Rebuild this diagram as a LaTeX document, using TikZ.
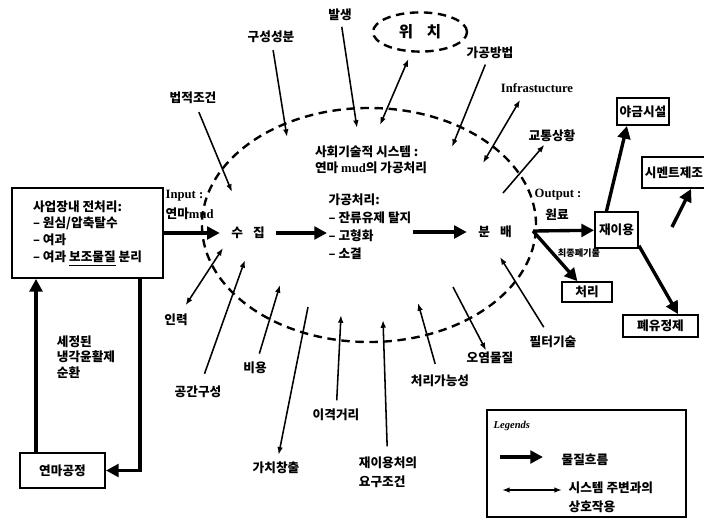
\documentclass[tikz,border=0pt]{standalone}
\usepackage{fontspec}
\setmainfont{Noto Sans CJK KR}
\newfontfamily\lat{Liberation Serif}
\usetikzlibrary{arrows.meta,shapes.geometric}

\begin{document}
\begin{tikzpicture}[x=0.025cm,y=-0.025cm,
  every node/.append style={font=\bfseries\fontsize{9}{11}\selectfont,inner sep=1pt},
  box/.style={draw,line width=1.2pt,inner sep=2pt},
  flow/.style={line width=2.4pt,-{Triangle[length=9pt,width=9pt]}},
  link/.style={line width=1.1pt,-{Latex[length=5.5pt,width=4pt]}},
  both/.style={line width=1.1pt,{Latex[length=5.5pt,width=4pt]}-{Latex[length=5.5pt,width=4pt]}},
  sysline/.style={draw,ellipse,line width=1.7pt,dash pattern=on 6pt off 4pt,inner sep=0pt}]
  \useasboundingbox (0,0) rectangle (704,520);

  % system boundary and inner processes
  \node[sysline,minimum width=8.35cm,minimum height=5.85cm] (sys) at (369,225) {};
  \node[align=left,font=\bfseries\fontsize{9}{11.5}\selectfont] (systitle) at (371,160) {사회기술적 시스템 :\\연마 {\lat mud}의 가공처리};
  \node[inner xsep=8pt] (suzip) at (248,233) {수\hspace{0.8em}집};
  \node[align=left,anchor=north west,font=\bfseries\fontsize{9}{12.8}\selectfont] (proc) at (327,192)
    {가공처리:\\– 잔류유제 탈지\\– 고형화\\– 소결};
  \node[inner xsep=8pt] (bunbae) at (495,232) {분\hspace{0.8em}배};

  % input side
  \node[box,minimum width=3.78cm,minimum height=2.25cm,align=left,font=\bfseries\fontsize{9}{12}\selectfont] (pre) at (87.5,233)
    {사업장내 전처리:\\– 원심/압축탈수\\– 여과\\– 여과 \underline{보조물질} 분리};
  \node[box,minimum width=2.13cm,minimum height=0.88cm] (polish) at (62.5,470.5) {연마공정};
  \node[align=left,font=\bfseries\fontsize{9}{11}\selectfont] (clean) at (86,357) {세정된\\냉각윤활제\\순환};
  \node[align=left,anchor=west,font=\bfseries\fontsize{9}{14}\selectfont] (inlbl) at (164,205) {{\lat Input :}\\연마{\lat mud}};
  \coordinate (lx) at (36,0);
  \coordinate (rx) at (140,0);
  \draw[flow] (pre) -- (suzip);
  \draw[flow] (suzip) -- (suzip -| proc.west);
  \draw[flow] (proc.east |- bunbae) -- (bunbae);
  \draw[flow] (polish.north -| lx) -- (pre.south -| lx);
  \draw[flow] (pre.south -| rx) |- (polish.east);

  % output side
  \node[anchor=west,font=\lat\bfseries\fontsize{9}{11}\selectfont] (outlbl) at (533,195) {Output :};
  \node (raw) at (557,215) {원료};
  \node[font=\bfseries\fontsize{6.5}{8}\selectfont] (waste) at (579,253) {최종폐기물};
  \node[box,minimum width=1.08cm,minimum height=0.9cm] (reuse) at (616.5,230) {재이용};
  \node[box,minimum width=1.25cm,minimum height=0.5cm] (disp) at (587,292) {처리};
  \node[box,minimum width=1.3cm,minimum height=0.68cm] (metal) at (643,111.5) {야금시설};
  \node[box,minimum width=1.45cm,minimum height=0.78cm] (cement) at (674,172.5) {시멘트제조};
  \node[box,minimum width=1.88cm,minimum height=0.55cm] (oil) at (660.5,326) {폐유정제};
  \coordinate (out) at (533,231);
  \coordinate (cemstart) at (672,227);
  \draw[flow] (out) -- (reuse);
  \draw[flow] (out) -- (disp);
  \draw[flow] (reuse.118) -- (metal.222);
  \draw[flow] (cemstart) -- (cement.-44);
  \draw[flow] (reuse.-35) -- (oil.34);

  % surrounding factors
  \node (legal) at (193,98) {법적조건};
  \node (comp) at (271,37) {구성성분};
  \node (gen) at (340,15) {발생};
  \node[sysline,minimum width=2.35cm,minimum height=0.98cm,font=\bfseries\fontsize{11}{13}\selectfont] (loc) at (420,32) {위\hspace{0.9em}치};
  \node (meth) at (490,53) {가공방법};
  \node[font=\lat\bfseries\fontsize{9}{11}\selectfont] (infra) at (537,88) {Infrastucture};
  \node (traf) at (552,136) {교통상황};
  \node (filt) at (553,342) {필터기술};
  \node (poll) at (490,358) {오염물질};
  \node (treat) at (440,381) {처리가능성};
  \node[align=left,font=\bfseries\fontsize{9}{13.5}\selectfont] (req) at (388,472) {재이용처의\\요구조건};
  \node (dist) at (336,415) {이격거리};
  \node (value) at (276,468) {가치창출};
  \node (cost) at (255,368) {비용};
  \node (space) at (198,392) {공간구성};
  \node (labor) at (176,320) {인력};

  \coordinate (e1) at (232,192);
  \coordinate (e2) at (287,137);
  \coordinate (e3) at (357,128);
  \coordinate (e4) at (380,125);
  \coordinate (e5) at (452,147);
  \coordinate (e6) at (483,163);
  \coordinate (s7) at (503,193);
  \coordinate (e8) at (500,257);
  \coordinate (s9) at (453,287);
  \coordinate (e10) at (418,303);
  \coordinate (e11) at (383,320);
  \coordinate (e12) at (341,315);
  \coordinate (s13) at (308,307);
  \coordinate (e14) at (280,285);
  \coordinate (e15) at (245,260);
  \coordinate (e16) at (223,248);

  \draw[link,shorten <=5pt] (legal) -- (e1);
  \draw[link,shorten <=4pt] (comp) -- (e2);
  \draw[link,shorten <=3pt] (gen) -- (e3);
  \draw[both,shorten >=5pt] (e4) -- (loc);
  \draw[link,shorten <=3pt] (meth) -- (e5);
  \draw[both] (e6) -- ([xshift=-12pt,yshift=-4pt]infra.south);
  \draw[link,shorten >=1pt] (s7) -- (traf);
  \draw[link,shorten <=6pt] (filt) -- (e8);
  \draw[link] (s9) -- (poll);
  \draw[link,shorten <=7pt] (treat) -- (e10);
  \draw[link,shorten <=6pt] (req) -- (e11);
  \draw[link,shorten <=5pt] (dist) -- (e12);
  \draw[link,shorten >=4pt] (s13) -- (value);
  \draw[link,shorten <=5pt] (cost) -- (e14);
  \draw[link,shorten <=8pt] (space) -- (e15);
  \draw[both,shorten <=6pt] (labor) -- (e16);

  % legend
  \node[box,minimum width=4.98cm,minimum height=2.68cm] (legend) at (586.5,463.5) {};
  \node[anchor=west,font=\lat\bfseries\itshape\fontsize{7.5}{9}\selectfont] (legtitle) at (492,426) {Legends};
  \coordinate (lga) at (500,457);
  \coordinate (lgb) at (543,457);
  \coordinate (lgc) at (502,490);
  \coordinate (lgd) at (562,490);
  \draw[flow] (lga) -- (lgb);
  \draw[both] (lgc) -- (lgd);
  \node[anchor=west] (flowtxt) at (560,460) {물질흐름};
  \node[anchor=west,align=left,font=\bfseries\fontsize{9}{13.5}\selectfont] (inttxt) at (567,497.5) {시스템 주변과의\\상호작용};
\end{tikzpicture}
\end{document}
